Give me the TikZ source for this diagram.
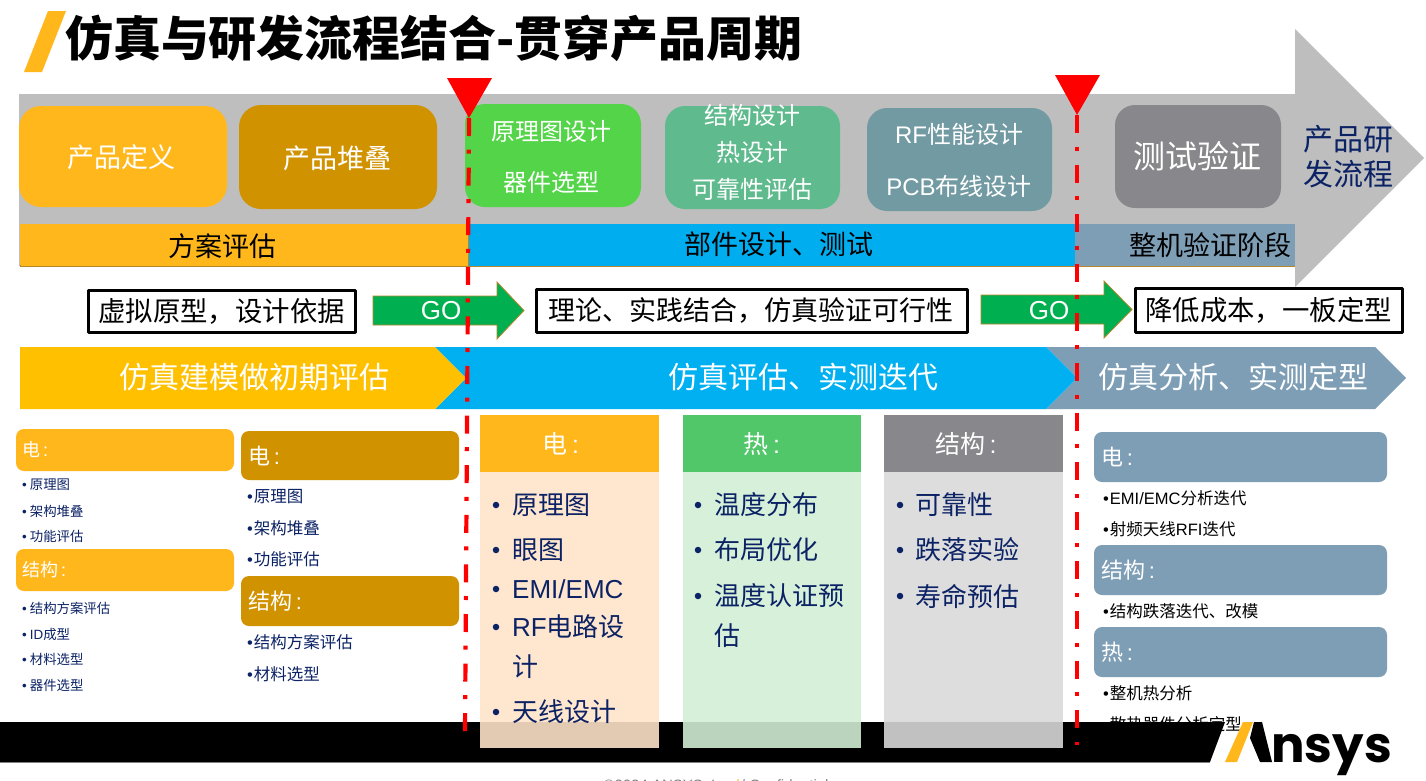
\documentclass[tikz,border=0pt]{standalone}
\usepackage{fontspec}
\setmainfont{Noto Sans CJK SC}
\newfontfamily\latf{Liberation Sans}
\newfontfamily\logof{Poppins}
\newcommand{\lat}[1]{{\latf #1}}
\newcommand{\fs}[1]{\fontsize{#1}{#1}\selectfont}
\definecolor{ansysorange}{HTML}{FFB71B}
\definecolor{darkgold}{HTML}{D19200}
\definecolor{barblue}{HTML}{00AEEF}
\definecolor{slate}{HTML}{7E9EB6}
\definecolor{navy}{HTML}{0B2265}
\definecolor{midgray}{HTML}{88888C}
\definecolor{arrowgray}{HTML}{BEBEBE}
\definecolor{gogreen}{HTML}{00B050}
\definecolor{goedge}{HTML}{B8862B}
\definecolor{stagegreen}{HTML}{54D448}
\definecolor{stageteal}{HTML}{5FBB8E}
\definecolor{stageblue}{HTML}{729AA2}
\definecolor{chevyellow}{HTML}{FFC000}
\definecolor{chevblue}{HTML}{00B0F0}
\definecolor{headgreen}{HTML}{51C76A}
\definecolor{bodypeach}{HTML}{FFE3C9}
\definecolor{bodygreen}{HTML}{D1EFD5}
\definecolor{bodygray}{HTML}{D9D9D9}
\tikzset{
  x=1pt,y=-1pt,
  white label/.style={text=white,inner sep=0pt,align=center},
  black label/.style={text=black,inner sep=0pt,align=center},
  left head/.style={text=white,inner sep=0pt,anchor=west},
  navy item/.style={text=navy,inner sep=0pt,anchor=west},
  black item/.style={text=black,inner sep=0pt,anchor=west},
  bigbullet/.style={circle,fill=navy,inner sep=0pt,minimum size=6.5pt},
  tag box/.style={draw=black,line width=3pt,fill=white,line join=round},
  red guide/.style={draw=red,line width=4.2pt,dash pattern=on 18pt off 13.6pt on 4pt off 14pt},
  go arrow/.style={fill=gogreen,draw=goedge,line width=.8pt},
  panel/.style={fill opacity=.89,draw=none},
  bar edge/.style={draw=goedge,line width=.7pt},
}
\begin{document}
\begin{tikzpicture}
\useasboundingbox (0,0) rectangle (1426,780);
\clip (0,0) rectangle (1426,780);
\fill[white] (0,0) rectangle (1426,780);
% title
\fill[ansysorange] (48,11) -- (66,11) -- (42,72) -- (24,72) -- cycle;
\node[inner sep=0pt,anchor=west,text=black] (title) at (65,38.5) {\fs{47.9}\bfseries 仿真与研发流程结合-贯穿产品周期};
% big gray arrow
\fill[arrowgray] (19,94) -- (1295,94) -- (1295,29) -- (1424,158) -- (1295,287) -- (1295,266) -- (19,266) -- cycle;
% stage boxes
\fill[ansysorange,rounded corners=22pt] (19,106) rectangle (227,207);
\fill[darkgold,rounded corners=22pt] (239,105) rectangle (437,209);
\fill[stagegreen,rounded corners=20pt] (465,104) rectangle (641,207);
\fill[stageteal,rounded corners=20pt] (665,106) rectangle (840,209);
\fill[stageblue,rounded corners=20pt] (867,108) rectangle (1052,211);
\fill[midgray,rounded corners=20pt] (1115,105) rectangle (1281,208);
\node[white label] (s1) at (121,157) {\fs{27}产品定义};
\node[white label] (s2) at (337,158) {\fs{27}产品堆叠};
\node[white label] (s3a) at (551,131) {\fs{24}原理图设计};
\node[white label] (s3b) at (551,182) {\fs{24}器件选型};
\node[white label] (s4a) at (752,115) {\fs{24}结构设计};
\node[white label] (s4b) at (752,152) {\fs{24}热设计};
\node[white label] (s4c) at (752,189) {\fs{24}可靠性评估};
\node[white label] (s5a) at (959,134) {\fs{24}\lat{RF}性能设计};
\node[white label] (s5b) at (959,186) {\fs{24}\lat{PCB}布线设计};
\node[white label] (s6) at (1197,156) {\fs{32}测试验证};
\node[text=navy,inner sep=0pt] (flow) at (1348,157) {\begin{tabular}{@{}c@{}}\fs{30}产品研\\[6pt]\fs{30}发流程\end{tabular}};
% phase bar
\fill[ansysorange,bar edge] (20,224) rectangle (468,266);
\fill[barblue,bar edge] (468,224) rectangle (1075,266);
\fill[slate] (1075,224) rectangle (1295,266);
\draw[bar edge] (1075,266) -- (1295,266);
\fill[barblue] (468.5,224) rectangle (1074.6,265.4);
\fill[ansysorange] (20.4,224) rectangle (467.6,265.4);
\fill[slate] (1075.4,224) rectangle (1295,265.4);
\node[black label] (p1) at (222,246) {\fs{27}方案评估};
\node[black label] (p2) at (779,244) {\fs{27}部件设计、测试};
\node[black label] (p3) at (1210,245) {\fs{27}整机验证阶段};
% tag boxes
\node[tag box,minimum width=267pt,minimum height=42pt,inner sep=0pt] (t1) at (221.5,311) {\fs{27.4}虚拟原型，设计依据};
\node[tag box,minimum width=431pt,minimum height=43pt,inner sep=0pt] (t2) at (751.5,310.5) {\hspace{-2pt}\fs{27}理论、实践结合，仿真验证可行性\hspace{2pt}};
\node[tag box,minimum width=267pt,minimum height=44pt,inner sep=0pt] (t3) at (1268.5,310) {\fs{27.4}降低成本，一板定型};
% go arrows
\draw[go arrow] (373,296) -- (497,296) -- (497,282) -- (524,310.5) -- (497,339) -- (497,325) -- (373,325) -- cycle;
\draw[go arrow] (981,295) -- (1104,295) -- (1104,281) -- (1132,309.5) -- (1104,338) -- (1104,324) -- (981,324) -- cycle;
\node[white label] (go1) at (441,311) {\fs{26}\lat{GO}};
\node[white label] (go2) at (1049,311) {\fs{26}\lat{GO}};
% chevrons
\fill[slate] (1046,347) -- (1375,347) -- (1406,378) -- (1375,409) -- (1046,409) -- (1077,378) -- cycle;
\fill[chevblue] (435,347) -- (1046,347) -- (1077,378) -- (1046,409) -- (435,409) -- (466,378) -- cycle;
\fill[chevyellow] (20,347) -- (435,347) -- (466,378) -- (435,409) -- (20,409) -- cycle;
\node[white label] (c1) at (254,377) {\fs{30}仿真建模做初期评估};
\node[white label] (c2) at (803,377) {\fs{30}仿真评估、实测迭代};
\node[white label] (c3) at (1233,377) {\fs{30}仿真分析、实测定型};
% column 1
\fill[ansysorange,rounded corners=8pt] (16,429) rectangle (234,471);
\fill[ansysorange,rounded corners=8pt] (16,549) rectangle (234,591);
\node[left head] (a1) at (22,450) {\fs{18}电\,\lat{:}};
\node[left head] (a2) at (22,570) {\fs{18}结构\,\lat{:}};
\foreach \n/\y/\t in {a3/485/原理图,a4/511/架构堆叠,a5/536/功能评估,a6/608/结构方案评估,a7/634/\lat{ID}成型,a8/659/材料选型,a9/685/器件选型}
  \node[navy item] (\n) at (22,\y) {\fs{13.4}\lat{•}\hspace{3pt}\t};
% column 2
\fill[darkgold,rounded corners=8pt] (241,431) rectangle (459,480);
\fill[darkgold,rounded corners=8pt] (241,576) rectangle (459,626);
\node[left head] (b1) at (248,456) {\fs{22}电\,\lat{:}};
\node[left head] (b2) at (248,601) {\fs{22}结构\,\lat{:}};
\foreach \n/\y/\t in {b3/497/原理图,b4/528/架构堆叠,b5/559/功能评估,b6/642/结构方案评估,b7/674/材料选型}
  \node[navy item] (\n) at (247,\y) {\fs{16.5}\lat{•}\hspace{1pt}\t};
% right column
\fill[slate,rounded corners=8pt] (1094,432) rectangle (1387,482);
\fill[slate,rounded corners=8pt] (1094,545) rectangle (1387,595);
\fill[slate,rounded corners=8pt] (1094,627) rectangle (1387,677);
\node[left head] (r1) at (1101,457) {\fs{22}电\,\lat{:}};
\node[left head] (r2) at (1101,570) {\fs{22}结构\,\lat{:}};
\node[left head] (r3) at (1101,652) {\fs{22}热\,\lat{:}};
\foreach \n/\y/\t in {r4/498/\lat{EMI/EMC}分析迭代,r5/529/射频天线\lat{RFI}迭代,r6/611/结构跌落迭代、改模,r7/693/整机热分析,r8/724/散热器件分析定型}
  \node[black item] (\n) at (1103,\y) {\fs{16.5}\lat{•}\hspace{1pt}\t};
% black footer with slanted end
\fill[black] (0,722) -- (1225,722) -- (1210,762) -- (0,762) -- cycle;
\draw[gray,line width=.6pt] (0,762.5) -- (1210,762.5);
% logo
\fill[ansysorange] (1243,722) -- (1253,722) -- (1237,762) -- (1225,762) -- cycle;
\fill[black] (1254,722) -- (1262,722) -- (1272,762) -- (1260,762) -- (1250,738) -- cycle;
\node[inner sep=0pt,anchor=base west,text=black] (logo) at (1271,762) {\logof\fs{49.8}\bfseries nsys};
% copyright
\node[inner sep=0pt,anchor=base,text=gray] (copy) at (716,790) {\fs{15}\lat{©2024 ANSYS, Inc. / Confidential}};
\node[inner sep=0pt,anchor=base,text=ansysorange] (copys) at (737,790) {\fs{15}\lat{/}};
% detail panels
\fill[bodypeach,panel] (480,415) rectangle (659,748);
\fill[bodygreen,panel] (683,415) rectangle (861,748);
\fill[bodygray,panel] (884,415) rectangle (1063,748);
\fill[ansysorange] (480,415) rectangle (659,472);
\fill[headgreen] (683,415) rectangle (861,472);
\fill[midgray] (884,415) rectangle (1063,472);
\node[white label] (d1) at (561,444) {\fs{25}电\,\lat{:}};
\node[white label] (d2) at (762,444) {\fs{25}热\,\lat{:}};
\node[white label] (d3) at (966,444) {\fs{25}结构\,\lat{:}};
\foreach \n/\y/\t in {e1/505/原理图,e2/550/眼图,e3/589/\lat{EMI/EMC},e4/627/\lat{RF}电路设,e6/712/天线设计}{
  \node[bigbullet] (\n b) at (496,\y) {};
  \node[navy item] (\n) at (512,\y) {\fs{26}\t};}
\node[navy item] (e5) at (512,667) {\fs{26}计};
\foreach \n/\y/\t in {f1/505/温度分布,f2/550/布局优化,f3/596/温度认证预}{
  \node[bigbullet] (\n b) at (698,\y) {};
  \node[navy item] (\n) at (714,\y) {\fs{26}\t};}
\node[navy item] (f4) at (714,636) {\fs{26}估};
\foreach \n/\y/\t in {g1/505/可靠性,g2/550/跌落实验,g3/596/寿命预估}{
  \node[bigbullet] (\n b) at (900,\y) {};
  \node[navy item] (\n) at (915,\y) {\fs{26}\t};}
% red guides
\coordinate (u1) at (469,118); \coordinate (v1) at (465,733);
\coordinate (u2) at (1077,115); \coordinate (v2) at (1077,745);
\draw[red guide] (u1) -- (v1);
\draw[red guide] (u2) -- (v2);
\fill[red] (447,78) -- (492,78) -- (u1) -- cycle;
\fill[red] (1055,75) -- (1100,75) -- (u2) -- cycle;
\end{tikzpicture}
\end{document}
